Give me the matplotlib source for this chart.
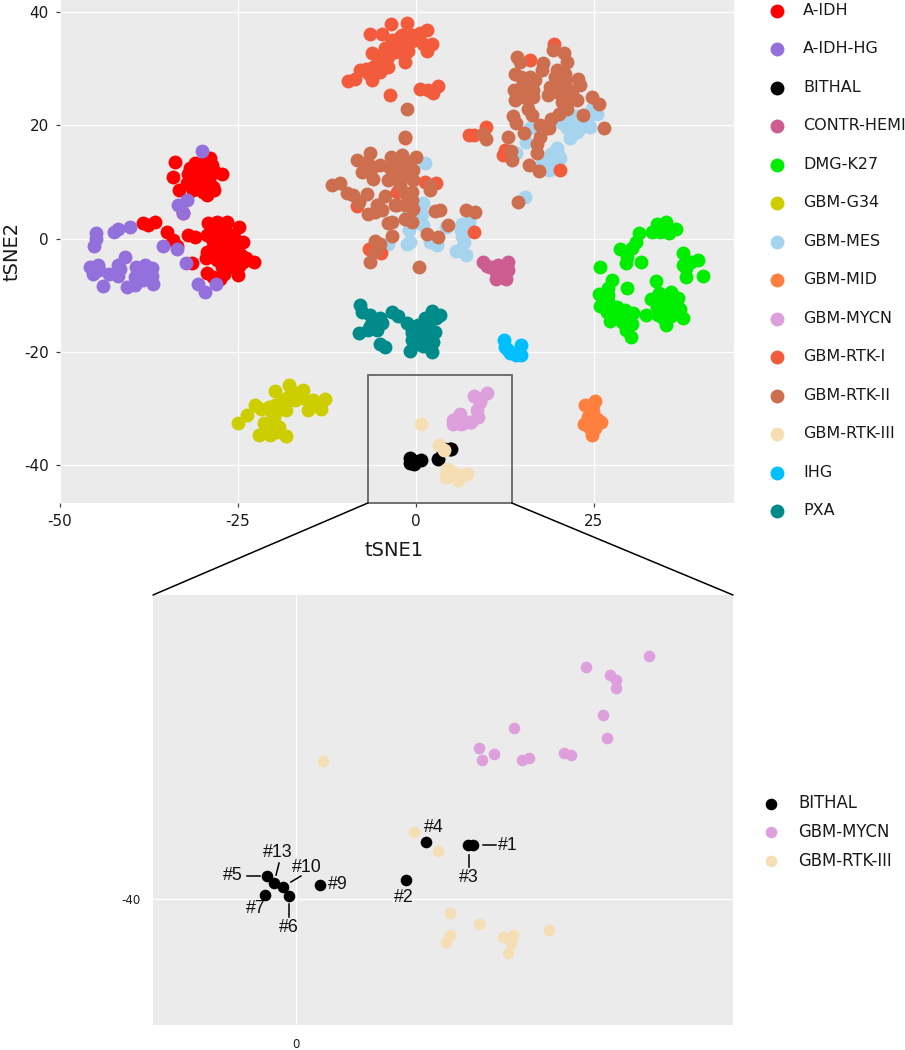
import matplotlib
matplotlib.use('Agg')
import matplotlib.pyplot as plt
import numpy as np
from matplotlib.patches import Rectangle, ConnectionPatch

# t-SNE coordinates, one list per class
a_idh = [(-33.8, 13.5), (-34.1, 10.9), (-33.3, 8.6), (-31.0, 13.3), (-29.9, 13.3), (-28.9, 14.2), (-28.7, 13.0),
         (-28.2, 11.8), (-27.2, 11.5), (-32.0, 11.5), (-32.2, 9.8), (-31.3, 8.6), (-29.9, 9.5), (-28.5, 9.2),
         (-29.4, 7.7), (-29.9, 8.3), (-30.8, 10.4), (-32.7, 4.5), (-38.4, 2.8), (-37.6, 2.4), (-36.7, 3.0),
         (-34.9, 1.1), (-34.1, -0.3), (-33.5, -1.4), (-32.0, 0.6), (-31.0, 0.2), (-31.5, -4.4), (-29.2, 2.7),
         (-27.9, 3.0), (-26.5, 3.0), (-24.9, 2.0), (-29.4, 0.6), (-28.0, 1.2), (-26.6, 0.9), (-26.1, -0.6),
         (-25.9, -1.4), (-24.3, -0.7), (-29.4, -2.3), (-27.8, -2.0), (-29.5, -3.5), (-28.0, -3.8), (-26.4, -4.1),
         (-24.5, -2.9), (-22.8, -4.1), (-25.9, -5.0), (-25.0, -6.5), (-29.4, -6.1), (-28.5, -6.8), (-27.5, -7.1),
         (-24.3, -4.1), (-25.4, -3.2), (-28.5, 2.0), (-27.0, 2.0), (-28.7, 0.0), (-27.3, -0.5), (-25.5, 0.3),
         (-28.5, -1.5), (-27.0, -1.8), (-26.8, -3.0), (-25.2, -2.0), (-28.7, -3.0), (-27.2, -5.0), (-26.0, -3.8),
         (-24.8, -4.8), (-23.8, -3.5), (-27.0, -6.2), (-28.0, -1.0), (-31.0, 12.0), (-30.0, 12.0), (-29.0, 12.0),
         (-30.5, 11.0), (-29.5, 10.8), (-31.5, 10.5), (-31.0, 9.5), (-29.0, 10.5), (-30.3, 8.8), (-28.3, 8.5),
         (-31.8, 12.4)]
a_idh_hg = [(-30.0, 15.5), (-32.2, 6.8), (-33.4, 5.9), (-32.7, 4.5), (-35.5, -1.3), (-33.5, -1.9), (-32.3, -4.4),
            (-28.1, -8.1), (-30.6, -8.1), (-29.6, -9.4), (-44.9, 1.0), (-44.9, 0.0), (-45.2, -1.3), (-40.2, 2.1),
            (-41.8, 1.6), (-42.4, 1.2), (-45.8, -5.1), (-44.7, -4.7), (-45.3, -6.3), (-40.9, -3.3), (-41.8, -4.7),
            (-43.1, -6.2), (-41.8, -6.6), (-43.9, -8.4), (-40.6, -8.5), (-39.5, -8.2), (-39.3, -5.1), (-38.1, -4.7),
            (-37.1, -5.3), (-37.0, -8.1), (-38.5, -6.2), (-39.5, -6.8), (-38.3, -7.4), (-37.1, -6.6), (-38.8, -5.8),
            (-37.8, -5.8), (-39.0, -7.3), (-38.0, -6.8), (-37.5, -7.2), (-44.5, -5.6), (-41.5, -5.4)]
bithal = [(4.99, -37.19), (3.10, -39.01), (4.85, -37.19), (3.66, -37.03), (-0.82, -38.80), (-0.20, -39.84),
          (-0.87, -39.79), (0.68, -39.27), (-0.37, -39.375), (-0.62, -39.17)]
contr_hemi = [(9.4, -4.2), (10.4, -5.0), (11.6, -4.7), (13.0, -4.2), (11.3, -5.9), (13.0, -5.6), (11.3, -7.1),
              (12.7, -7.1), (11.0, -5.0), (12.0, -5.5), (12.3, -6.3), (11.9, -6.8), (12.6, -5.0), (10.0, -4.8)]
dmg_k27 = [(33.9, 2.6), (35.1, 3.0), (33.2, 1.2), (34.3, 1.2), (35.5, 0.9), (36.5, 1.6), (31.3, 0.9), (30.9, -0.6),
           (30.3, -1.7), (28.7, -1.9), (29.6, -3.2), (29.5, -4.4), (31.6, -4.2), (25.9, -5.1), (37.5, -2.5),
           (39.7, -3.8), (38.7, -4.1), (38.0, -5.3), (37.9, -6.9), (40.4, -6.6), (27.5, -7.4), (27.0, -8.8),
           (25.8, -9.9), (29.6, -8.7), (33.7, -7.5), (34.2, -9.7), (33.0, -10.7), (35.9, -9.4), (36.8, -10.5),
           (25.9, -12.0), (26.8, -13.0), (28.2, -12.2), (29.4, -12.7), (30.5, -13.1), (27.5, -13.5), (27.3, -14.6),
           (28.7, -14.1), (30.3, -15.1), (29.5, -16.2), (30.2, -17.4), (32.4, -13.5), (33.9, -12.1), (34.0, -13.5),
           (35.2, -11.5), (35.9, -12.4), (37.1, -12.4), (37.6, -14.0), (35.2, -15.3), (35.9, -13.8), (34.3, -11.2),
           (29.0, -13.0), (28.5, -13.0), (28.0, -13.4), (29.0, -14.7), (30.0, -14.0), (35.0, -11.0), (34.8, -12.5),
           (35.8, -11.0), (36.0, -13.0), (36.5, -11.7), (34.7, -14.0), (35.0, -13.0), (33.8, -10.6), (27.0, -11.0),
           (27.0, -10.0), (28.5, -12.8), (37.6, -4.7)]
gbm_g34 = [(-24.95, -32.6), (-23.7, -31.2), (-22.6, -29.5), (-21.7, -30.1), (-20.7, -29.8), (-20.3, -30.6),
           (-19.8, -26.9), (-19.8, -29.5), (-18.6, -28.6), (-17.8, -25.9), (-17.2, -27.1), (-15.8, -26.8),
           (-17.0, -28.6), (-18.3, -30.4), (-20.0, -31.5), (-21.4, -32.7), (-20.7, -33.0), (-19.2, -33.3),
           (-22.0, -34.8), (-20.5, -34.8), (-18.2, -34.9), (-14.4, -28.6), (-12.8, -28.4), (-15.1, -30.4),
           (-13.3, -30.1), (-15.8, -28.3), (-20.0, -31.0), (-19.5, -30.3), (-20.0, -33.0), (-17.0, -27.5),
           (-16.5, -28.0), (-14.8, -29.3), (-14.0, -29.5), (-18.0, -28.0), (-21.0, -33.8), (-19.5, -34.3)]
gbm_mes = [(1.3, 13.3), (1.0, 6.2), (0.8, 4.4), (1.0, 2.4), (-1.1, 4.4), (-0.9, 1.5), (-0.8, -0.7), (-1.3, -0.9),
           (2.0, -0.6), (2.9, -1.2), (4.3, 2.1), (6.4, 1.5), (7.4, 3.0), (6.7, -0.6), (5.7, -2.2), (7.1, -2.9),
           (15.3, 7.3), (16.1, 19.5), (15.5, 17.1), (14.1, 15.2), (19.8, 16.0), (20.2, 14.2), (18.8, 14.5),
           (17.7, 13.3), (18.7, 12.1), (19.8, 13.3), (21.6, 21.0), (22.6, 21.6), (21.2, 19.5), (22.6, 18.9),
           (24.4, 19.8), (21.6, 17.7), (25.4, 22.1), (24.7, 23.0), (23.5, 20.4), (-3.9, -0.9), (22.0, 20.0),
           (23.0, 20.0), (24.0, 21.0), (23.0, 19.5), (20.5, 20.5), (19.0, 15.0), (20.0, 15.0), (19.0, 13.5),
           (0.0, 3.0), (0.5, 5.5), (6.5, 0.5), (6.5, 2.5)]
gbm_mid = [(25.2, -28.7), (24.9, -29.3), (23.7, -29.5), (24.4, -30.6), (23.6, -32.8), (24.7, -32.4), (26.0, -32.4),
           (25.1, -33.6), (24.7, -34.7), (24.2, -31.5), (24.8, -31.5), (25.0, -32.8), (24.5, -33.5), (24.9, -30.5),
           (25.5, -32.0)]
gbm_mycn = [(9.94, -27.34), (8.17, -27.92), (8.85, -28.33), (9.01, -28.59), (9.01, -29.01), (8.65, -30.42),
            (8.76, -31.61), (6.14, -31.09), (5.15, -32.14), (5.58, -32.45), (5.24, -32.76), (6.37, -32.76),
            (6.56, -32.66), (7.55, -32.40), (7.75, -32.50)]
gbm_rtk_i = [(-3.5, 38.0), (-1.2, 38.1), (-6.5, 36.2), (-4.8, 36.2), (1.5, 36.9), (0.6, 36.3), (-0.6, 36.0),
             (-2.2, 35.7), (-3.4, 35.1), (-1.3, 34.5), (2.2, 34.5), (-4.3, 33.7), (-2.5, 33.7), (-1.1, 33.1),
             (1.5, 33.1), (-6.1, 32.8), (-5.1, 31.6), (-1.5, 31.3), (-6.0, 30.4), (-3.9, 30.4), (-7.9, 29.9),
             (-5.1, 29.5), (-6.7, 29.2), (-9.5, 27.9), (-8.6, 28.3), (-6.2, 28.0), (-3.6, 25.4), (0.6, 26.5),
             (1.7, 26.3), (2.4, 25.8), (3.1, 26.9), (19.4, 34.5), (16.0, 31.5), (7.4, 18.4), (8.1, 18.3),
             (9.8, 19.7), (12.5, 15.7), (12.2, 14.7), (20.3, 12.1), (1.3, 10.0), (2.8, 9.8), (-2.6, 8.3),
             (-8.2, 5.8), (8.2, 1.2), (-6.6, -1.9), (-4.9, -2.6), (-1.5, 17.7), (-2.8, 34.8), (-1.9, 34.9),
             (-3.0, 33.0), (-4.5, 32.5), (-5.5, 32.3), (-3.9, 32.2), (-4.8, 30.5), (-7.0, 30.0), (-2.0, 36.0),
             (-0.5, 35.0), (-1.7, 32.5), (0.5, 35.5), (-5.5, 30.0), (1.0, 34.5)]
gbm_rtk_ii = [(19.2, 33.4), (20.8, 32.9), (21.3, 31.3), (14.2, 32.2), (14.6, 31.3), (17.9, 31.0), (17.7, 29.8),
              (19.9, 29.8), (13.9, 29.1), (21.0, 29.1), (16.7, 28.0), (15.8, 27.2), (22.8, 28.2), (23.0, 27.2),
              (18.8, 26.8), (20.2, 27.2), (13.8, 26.3), (15.1, 26.3), (16.5, 26.3), (21.2, 26.6), (13.9, 24.5),
              (18.5, 25.4), (16.0, 24.8), (20.5, 24.2), (22.6, 24.5), (24.7, 25.0), (25.8, 23.8), (21.2, 23.0),
              (20.1, 22.1), (15.8, 23.0), (16.3, 21.9), (13.7, 21.7), (14.1, 20.5), (19.0, 21.1), (23.5, 21.9),
              (18.7, 19.5), (15.2, 18.7), (17.4, 18.0), (17.0, 16.8), (13.0, 17.9), (17.0, 15.1), (26.5, 19.5),
              (15.9, 13.0), (17.3, 11.9), (13.3, 15.4), (13.5, 13.9), (9.5, 18.5), (9.9, 17.6), (14.3, 6.4),
              (-1.5, 18.0), (-1.3, 22.9), (-6.5, 15.1), (-8.3, 13.9), (-7.6, 11.8), (-6.0, 12.7), (-6.0, 10.6),
              (-3.5, 14.4), (-2.0, 14.8), (0.0, 14.5), (-3.6, 12.4), (-1.8, 12.7), (-0.4, 12.1), (-3.9, 10.3),
              (-2.2, 10.3), (-0.4, 10.3), (-2.2, 9.5), (2.0, 9.5), (2.0, 8.6), (-0.5, 8.3), (-11.8, 9.5),
              (-10.7, 9.9), (-9.7, 8.1), (-8.8, 7.7), (-6.9, 7.9), (-8.0, 6.5), (-4.4, 7.6), (-5.3, 5.9),
              (-4.7, 5.0), (-6.7, 4.3), (-5.8, 4.7), (-2.7, 5.9), (-1.1, 6.8), (-0.4, 5.3), (-1.5, 5.9),
              (2.7, 4.9), (3.4, 5.0), (7.1, 5.0), (8.3, 4.7), (-3.4, 3.0), (-3.9, 2.7), (-1.5, 3.4), (-0.6, 2.9),
              (4.5, 2.4), (-3.4, 0.4), (1.6, 0.8), (3.1, 0.3), (-5.8, -0.4), (-5.1, -0.9), (-5.8, -2.3),
              (-6.5, -4.1), (0.4, -5.1), (-2.8, 13.0), (-1.0, 13.5), (-1.0, 11.0), (-2.8, 11.5), (-5.0, 13.0),
              (-6.8, 13.5), (-7.0, 12.0), (-1.5, 8.0), (-1.0, 7.5), (-3.0, 6.0), (-0.5, 6.8), (-5.5, 6.0),
              (15.0, 27.5), (15.0, 25.0), (14.8, 28.5), (16.0, 28.5), (19.8, 26.0), (20.8, 25.5), (21.0, 28.0),
              (19.5, 28.5), (20.8, 24.0), (22.0, 25.5), (21.5, 24.5), (16.5, 25.0), (17.5, 20.0), (18.0, 19.3)]
gbm_rtk_iii = [(0.76, -32.81), (3.32, -36.51), (4.0, -37.5), (4.34, -40.73), (5.15, -41.30), (4.34, -41.88),
               (4.23, -42.24), (5.83, -41.98), (6.11, -41.88), (6.06, -42.29), (5.97, -42.81), (7.13, -41.61)]
ihg = [(12.4, -17.9), (12.5, -19.2), (13.2, -20.3), (14.1, -20.6), (14.8, -20.6), (14.8, -18.9), (12.9, -19.7)]
pxa = [(-7.9, -11.8), (-7.5, -13.0), (-6.5, -13.5), (-5.1, -14.1), (-4.8, -15.0), (-6.2, -15.0), (-6.7, -16.2),
       (-5.5, -16.2), (-8.0, -16.8), (-5.1, -18.7), (-4.3, -19.2), (-3.3, -13.0), (-2.5, -13.7), (-1.3, -15.0),
       (0.3, -15.3), (1.3, -14.1), (2.2, -12.8), (3.4, -13.5), (2.7, -16.5), (-0.1, -17.1), (0.6, -17.4),
       (1.5, -17.4), (2.4, -18.3), (0.1, -18.6), (-0.8, -19.9), (-0.1, -18.3), (2.2, -20.0), (1.0, -19.1),
       (-0.6, -16.2), (-6.0, -14.5), (-5.8, -15.5), (-6.5, -15.5), (-0.5, -16.8), (1.0, -16.5), (1.7, -15.5),
       (0.8, -18.2), (1.8, -18.7), (-0.5, -18.0), (0.3, -16.0), (1.8, -16.3), (2.8, -14.0), (-0.4, -15.6)]

class_names = ['A-IDH', 'A-IDH-HG', 'BITHAL', 'CONTR-HEMI', 'DMG-K27', 'GBM-G34', 'GBM-MES', 'GBM-MID',
               'GBM-MYCN', 'GBM-RTK-I', 'GBM-RTK-II', 'GBM-RTK-III', 'IHG', 'PXA']
class_points = [a_idh, a_idh_hg, bithal, contr_hemi, dmg_k27, gbm_g34, gbm_mes, gbm_mid,
                gbm_mycn, gbm_rtk_i, gbm_rtk_ii, gbm_rtk_iii, ihg, pxa]
class_colors = ['#FF0000', '#9370DB', '#000000', '#CD5C91', '#00EE00', '#CDCD00', '#A6D3EE', '#FF7F3F',
                '#DDA0DD', '#F25C3D', '#CD6F4F', '#F5DEB3', '#00BFFF', '#008B8B']

# labels for the BITHAL samples, same order as the bithal list
sample_labels = ['#1', '#2', '#3', '#4', '#5', '#6', '#7', '#9', '#10', '#13']
# text offset from the point in pixels, and optional leader line
label_text_px = [(35, 0), (-2, -17), (1, -32), (8, 14), (-34, 0), (0, -32), (-9, -14), (18, 0), (24, 20), (4, 31)]
label_line_px = [((10, 0), (23, 0)), None, ((1, -10), (1, -22)), None, ((-20, 0), (-7, 0)), ((0, -8), (0, -21)),
                 None, None, ((8, 5), (18, 11)), ((2, 8), (5, 20))]

W, H = 905, 1050
PANEL = '#EBEBEB'
TEXT = '#1A1A1A'

plt.rcParams['font.family'] = ['DejaVu Sans']
plt.rcParams['axes.unicode_minus'] = False

fig = plt.figure(figsize=(W / 100, H / 100), dpi=100)
ax = fig.add_axes([60 / W, (H - 503) / H, 674 / W, 503 / H])
inset = fig.add_axes([153 / W, (H - 1025) / H, 580 / W, 430 / H])

handles = []
for i, (name, pts, col) in enumerate(zip(class_names, class_points, class_colors)):
    xy = np.array(pts)
    sc = ax.scatter(xy[:, 0], xy[:, 1], s=100, color=col, linewidths=0, label=name, zorder=3 + i * 0.01)
    handles.append(sc)
    if name in ('BITHAL', 'GBM-MYCN', 'GBM-RTK-III'):
        inset.scatter(xy[:, 0], xy[:, 1], s=70, color=col, linewidths=0, label=name, zorder=3 + i * 0.01)

# main panel
ax.set_facecolor(PANEL)
ax.set_xlim(-50, 44.7)
ax.set_ylim(-46.8, 42.2)
ax.set_xticks([-50, -25, 0, 25])
ax.set_yticks([-40, -20, 0, 20, 40])
ax.grid(True, color='white', linewidth=0.9, zorder=1)
ax.set_axisbelow(True)
ax.tick_params(length=3, width=0.9, color='#444444', labelsize=11, labelcolor=TEXT, pad=5)
for s in ax.spines.values():
    s.set_visible(False)
ax.set_xlabel('tSNE1', fontsize=14, color=TEXT)
ax.set_ylabel('tSNE2', fontsize=14, color=TEXT)
ax.xaxis.set_label_coords((394 - 60) / 674, -38 / 503)
ax.yaxis.set_label_coords((22 - 60) / 674, 0.5)

ax.add_patch(Rectangle((-6.74, -46.8), 20.22, 22.64, fill=False, edgecolor='#666666', linewidth=1.3,
                       zorder=5, clip_on=False))

# inset panel
inset.set_facecolor(PANEL)
inset.set_xlim(-4.03, 12.31)
inset.set_ylim(-46.56, -24.17)
inset.set_xticks([0])
inset.set_yticks([-40])
inset.grid(True, color='white', linewidth=0.9, zorder=1)
inset.set_axisbelow(True)
inset.tick_params(length=0, labelsize=8.5, labelcolor=TEXT, pad=9)
for s in inset.spines.values():
    s.set_visible(False)

# labels in the inset, pixel offsets converted with the inset scale
XS, YS = 35.5, 19.2
for lab, (x, y), tp, lp in zip(sample_labels, bithal, label_text_px, label_line_px):
    inset.text(x + tp[0] / XS, y + tp[1] / YS, lab, ha='center', va='center', fontsize=12.8,
               family='Liberation Sans', color='#111111', zorder=6)
    if lp is not None:
        inset.plot([x + lp[0][0] / XS, x + lp[1][0] / XS], [y + lp[0][1] / YS, y + lp[1][1] / YS],
                   color='black', linewidth=1.1, zorder=6)

# lines joining the box to the inset
for xa, xb in [(-6.74, -4.03), (13.48, 12.31)]:
    con = ConnectionPatch(xyA=(xa, -46.8), coordsA=ax.transData, xyB=(xb, -24.17), coordsB=inset.transData,
                          color='black', linewidth=1.1)
    fig.add_artist(con)

fig.legend(handles=handles, loc='upper left', bbox_to_anchor=(757 / W, 1 + 5 / H), frameon=False, fontsize=11.5,
           labelspacing=1.47, handletextpad=0.88, handlelength=1.5, borderpad=0, labelcolor=TEXT)
ih, il = inset.get_legend_handles_labels()
fig.legend(ih, il, loc='upper left', bbox_to_anchor=(750.3 / W, 1 - 785.6 / H), frameon=False, fontsize=11.9,
           labelspacing=0.655, handletextpad=0.89, handlelength=1.5, borderpad=0, labelcolor=TEXT)

fig.savefig('out.png', dpi=100)
